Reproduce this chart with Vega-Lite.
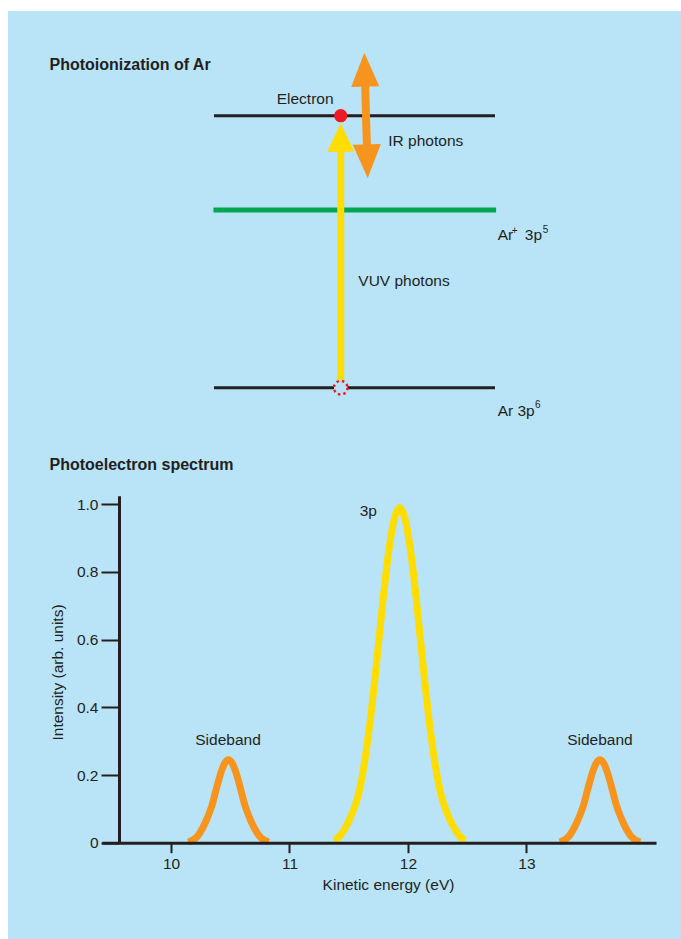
{
  "$schema": "https://vega.github.io/schema/vega-lite/v6.json",
  "width": 673,
  "height": 928,
  "autosize": "none",
  "padding": {"left": 8, "top": 11, "right": 0, "bottom": 0},
  "background": "white",
  "config": {
    "view": {"fill": "#b9e4f7", "stroke": null},
    "font": "Liberation Sans",
    "axis": {"grid": false}
  },
  "datasets": {
    "levels": [
      {"state": "Electron continuum", "x": 0, "x2": 10, "y": 7.653},
      {"state": "Ar 3p6", "x": 0, "x2": 10, "y": 0}
    ],
    "ion": [{"state": "Ar+ 3p5", "x": -0.02, "x2": 10.04, "y": 5.0}],
    "vuv": [{"x": 4.51, "y": 0.22, "y2": 6.75}],
    "vuvHead": [{"x": 4.51, "y": 7.44}],
    "ir": [{"x": 5.38, "x2": 5.44, "y": 8.52, "y2": 6.82}],
    "irUp": [{"x": 5.35, "y": 9.426}],
    "irDown": [{"x": 5.47, "y": 5.892}],
    "electron": [{"x": 4.51, "y": 7.653}],
    "hole": [{"x": 4.51, "y": 0}],
    "diagramLabels": [
      {"label": "Electron", "x": 2.231, "y": 7.982},
      {"label": "IR photons", "x": 6.203, "y": 6.801},
      {"label": "VUV photons", "x": 5.135, "y": 2.862},
      {"label": "Ar", "x": 10.096, "y": 4.156},
      {"label": "3p", "x": 11.06, "y": 4.156},
      {"label": "Ar 3p", "x": 10.096, "y": -0.788}
    ],
    "sup": [
      {"label": "+", "x": 10.6, "y": 4.33},
      {"label": "5", "x": 11.70, "y": 4.343},
      {"label": "6", "x": 11.42, "y": -0.58}
    ],
    "titles": [
      {"label": "Photoionization of Ar", "x": -5.855, "y": 8.953},
      {"label": "Photoelectron spectrum", "x": -5.855, "y": -2.316}
    ],
    "spectrumLabels": [
      {"label": "3p", "energy": 11.665, "intensity": 0.9654},
      {"label": "Sideband", "energy": 10.481, "intensity": 0.2887},
      {"label": "Sideband", "energy": 13.62, "intensity": 0.2887}
    ],
    "spectrum": [
      {"peak": "low", "band": "Sideband", "energy": 10.145, "intensity": 0.002},
      {"peak": "low", "band": "Sideband", "energy": 10.185, "intensity": 0.008},
      {"peak": "low", "band": "Sideband", "energy": 10.225, "intensity": 0.020},
      {"peak": "low", "band": "Sideband", "energy": 10.265, "intensity": 0.042},
      {"peak": "low", "band": "Sideband", "energy": 10.305, "intensity": 0.072},
      {"peak": "low", "band": "Sideband", "energy": 10.345, "intensity": 0.109},
      {"peak": "low", "band": "Sideband", "energy": 10.385, "intensity": 0.162},
      {"peak": "low", "band": "Sideband", "energy": 10.425, "intensity": 0.211},
      {"peak": "low", "band": "Sideband", "energy": 10.455, "intensity": 0.236},
      {"peak": "low", "band": "Sideband", "energy": 10.485, "intensity": 0.245},
      {"peak": "low", "band": "Sideband", "energy": 10.515, "intensity": 0.236},
      {"peak": "low", "band": "Sideband", "energy": 10.545, "intensity": 0.211},
      {"peak": "low", "band": "Sideband", "energy": 10.585, "intensity": 0.162},
      {"peak": "low", "band": "Sideband", "energy": 10.625, "intensity": 0.109},
      {"peak": "low", "band": "Sideband", "energy": 10.665, "intensity": 0.072},
      {"peak": "low", "band": "Sideband", "energy": 10.705, "intensity": 0.042},
      {"peak": "low", "band": "Sideband", "energy": 10.745, "intensity": 0.020},
      {"peak": "low", "band": "Sideband", "energy": 10.785, "intensity": 0.008},
      {"peak": "low", "band": "Sideband", "energy": 10.825, "intensity": 0.002},
      {"peak": "main", "band": "3p", "energy": 11.38, "intensity": 0.005},
      {"peak": "main", "band": "3p", "energy": 11.43, "intensity": 0.022},
      {"peak": "main", "band": "3p", "energy": 11.48, "intensity": 0.050},
      {"peak": "main", "band": "3p", "energy": 11.53, "intensity": 0.088},
      {"peak": "main", "band": "3p", "energy": 11.58, "intensity": 0.140},
      {"peak": "main", "band": "3p", "energy": 11.63, "intensity": 0.230},
      {"peak": "main", "band": "3p", "energy": 11.68, "intensity": 0.357},
      {"peak": "main", "band": "3p", "energy": 11.73, "intensity": 0.515},
      {"peak": "main", "band": "3p", "energy": 11.78, "intensity": 0.686},
      {"peak": "main", "band": "3p", "energy": 11.83, "intensity": 0.841},
      {"peak": "main", "band": "3p", "energy": 11.88, "intensity": 0.950},
      {"peak": "main", "band": "3p", "energy": 11.93, "intensity": 0.990},
      {"peak": "main", "band": "3p", "energy": 11.98, "intensity": 0.950},
      {"peak": "main", "band": "3p", "energy": 12.03, "intensity": 0.841},
      {"peak": "main", "band": "3p", "energy": 12.08, "intensity": 0.686},
      {"peak": "main", "band": "3p", "energy": 12.13, "intensity": 0.515},
      {"peak": "main", "band": "3p", "energy": 12.18, "intensity": 0.357},
      {"peak": "main", "band": "3p", "energy": 12.23, "intensity": 0.230},
      {"peak": "main", "band": "3p", "energy": 12.28, "intensity": 0.140},
      {"peak": "main", "band": "3p", "energy": 12.33, "intensity": 0.088},
      {"peak": "main", "band": "3p", "energy": 12.38, "intensity": 0.050},
      {"peak": "main", "band": "3p", "energy": 12.43, "intensity": 0.022},
      {"peak": "main", "band": "3p", "energy": 12.48, "intensity": 0.005},
      {"peak": "high", "band": "Sideband", "energy": 13.28, "intensity": 0.002},
      {"peak": "high", "band": "Sideband", "energy": 13.32, "intensity": 0.008},
      {"peak": "high", "band": "Sideband", "energy": 13.36, "intensity": 0.020},
      {"peak": "high", "band": "Sideband", "energy": 13.40, "intensity": 0.042},
      {"peak": "high", "band": "Sideband", "energy": 13.44, "intensity": 0.072},
      {"peak": "high", "band": "Sideband", "energy": 13.48, "intensity": 0.109},
      {"peak": "high", "band": "Sideband", "energy": 13.52, "intensity": 0.162},
      {"peak": "high", "band": "Sideband", "energy": 13.56, "intensity": 0.211},
      {"peak": "high", "band": "Sideband", "energy": 13.59, "intensity": 0.236},
      {"peak": "high", "band": "Sideband", "energy": 13.62, "intensity": 0.245},
      {"peak": "high", "band": "Sideband", "energy": 13.65, "intensity": 0.236},
      {"peak": "high", "band": "Sideband", "energy": 13.68, "intensity": 0.211},
      {"peak": "high", "band": "Sideband", "energy": 13.72, "intensity": 0.162},
      {"peak": "high", "band": "Sideband", "energy": 13.76, "intensity": 0.109},
      {"peak": "high", "band": "Sideband", "energy": 13.80, "intensity": 0.072},
      {"peak": "high", "band": "Sideband", "energy": 13.84, "intensity": 0.042},
      {"peak": "high", "band": "Sideband", "energy": 13.88, "intensity": 0.020},
      {"peak": "high", "band": "Sideband", "energy": 13.92, "intensity": 0.008},
      {"peak": "high", "band": "Sideband", "energy": 13.96, "intensity": 0.002}
    ]
  },
  "layer": [
    {
      "encoding": {
        "x": {"field": "x", "type": "quantitative", "axis": null,
              "scale": {"domain": [0, 10], "range": [206, 487], "nice": false, "zero": false}},
        "y": {"field": "y", "type": "quantitative", "axis": null,
              "scale": {"domain": [0, 10], "range": [376.7, 21.3], "nice": false, "zero": false}}
      },
      "layer": [
        {"data": {"name": "levels"}, "mark": {"type": "rule", "color": "#231f20", "strokeWidth": 3},
         "encoding": {"x2": {"field": "x2"}}},
        {"data": {"name": "ion"}, "mark": {"type": "rule", "color": "#00a651", "strokeWidth": 5},
         "encoding": {"x2": {"field": "x2"}}},
        {"data": {"name": "vuv"}, "mark": {"type": "rule", "color": "#ffdd00", "strokeWidth": 7},
         "encoding": {"y2": {"field": "y2"}}},
        {"data": {"name": "vuvHead"}, "mark": {"type": "point", "shape": "M0,0L-1,2.1L1,2.1Z", "size": 729, "filled": true, "color": "#ffdd00", "opacity": 1, "strokeWidth": 0},
         "encoding": {}},
        {"data": {"name": "ir"}, "mark": {"type": "rule", "color": "#f7941d", "strokeWidth": 8},
         "encoding": {"x2": {"field": "x2"}, "y2": {"field": "y2"}}},
        {"data": {"name": "irUp"}, "mark": {"type": "point", "shape": "M0,0L-1,2.43L1,2.43Z", "size": 784, "angle": -1.5, "filled": true, "color": "#f7941d", "opacity": 1, "strokeWidth": 0},
         "encoding": {}},
        {"data": {"name": "irDown"}, "mark": {"type": "point", "shape": "M0,0L-1,-2.43L1,-2.43Z", "size": 784, "angle": -1.5, "filled": true, "color": "#f7941d", "opacity": 1, "strokeWidth": 0},
         "encoding": {}},
        {"data": {"name": "electron"}, "mark": {"type": "point", "shape": "circle", "size": 177, "filled": true, "color": "#ed1c24", "opacity": 1, "strokeWidth": 0},
         "encoding": {}},
        {"data": {"name": "hole"}, "mark": {"type": "point", "shape": "circle", "size": 185, "fill": "#b9e4f7", "stroke": "#ed1c24", "strokeWidth": 2.5, "strokeDash": [2.5, 3], "opacity": 1, "fillOpacity": 1},
         "encoding": {}},
        {"data": {"name": "diagramLabels"}, "mark": {"type": "text", "align": "left", "baseline": "alphabetic", "fontSize": 15.5, "font": "Liberation Sans", "color": "#231f20"},
         "encoding": {"text": {"field": "label"}}},
        {"data": {"name": "sup"}, "mark": {"type": "text", "align": "left", "baseline": "alphabetic", "fontSize": 10, "font": "Liberation Sans", "color": "#231f20"},
         "encoding": {"text": {"field": "label"}}},
        {"data": {"name": "titles"}, "mark": {"type": "text", "align": "left", "baseline": "alphabetic", "fontSize": 16, "fontWeight": "bold", "font": "Liberation Sans", "color": "#231f20"},
         "encoding": {"text": {"field": "label"}}}
      ]
    },
    {
      "encoding": {
        "x": {"field": "energy", "type": "quantitative",
              "scale": {"domain": [9.416, 14.093], "range": [93.8, 648], "nice": false, "zero": false},
              "axis": {"orient": "bottom", "offset": -96.3, "values": [10, 11, 12, 13], "title": "Kinetic energy (eV)",
                       "domainColor": "#231f20", "domainWidth": 3, "tickColor": "#231f20", "tickWidth": 2, "tickSize": 10,
                       "labelPadding": 4, "labelFont": "Liberation Sans", "labelFontSize": 15.5, "labelColor": "#231f20", "labelFlush": false,
                       "titleFont": "Liberation Sans", "titleFontSize": 15.5, "titleFontWeight": "normal", "titleColor": "#231f20",
                       "titleX": 380, "titleY": 42, "titleBaseline": "middle", "titleAlign": "center", "zindex": 1}},
        "y": {"field": "intensity", "type": "quantitative",
              "scale": {"domain": [0, 1.025], "range": [831.7, 484.8], "nice": false, "zero": false},
              "axis": {"orient": "left", "offset": -111, "values": [0, 0.2, 0.4, 0.6, 0.8, 1.0],
                       "labelExpr": "datum.value == 0 ? '0' : format(datum.value, '.1f')",
                       "title": "Intensity (arb. units)",
                       "domainColor": "#231f20", "domainWidth": 3, "tickColor": "#231f20", "tickWidth": 2, "tickSize": 18,
                       "labelPadding": 3, "labelFont": "Liberation Sans", "labelFontSize": 15.5, "labelColor": "#231f20", "labelFlush": false,
                       "titleFont": "Liberation Sans", "titleFontSize": 15.5, "titleFontWeight": "normal", "titleColor": "#231f20",
                       "titleX": -62, "titleY": 661, "titleAngle": -90, "titleBaseline": "middle", "titleAlign": "center", "zindex": 1}}
      },
      "layer": [
        {"data": {"name": "spectrum"}, "mark": {"type": "line", "strokeWidth": 7, "interpolate": "monotone"},
         "encoding": {
           "color": {"field": "band", "type": "nominal", "scale": {"domain": ["Sideband", "3p"], "range": ["#f7941d", "#ffdd00"]}, "legend": null},
           "detail": {"field": "peak"}
         }},
        {"data": {"name": "spectrumLabels"}, "mark": {"type": "text", "align": "center", "baseline": "alphabetic", "fontSize": 15.5, "font": "Liberation Sans", "color": "#231f20"},
         "encoding": {"text": {"field": "label"}}}
      ]
    }
  ],
  "resolve": {"scale": {"x": "independent", "y": "independent"}, "axis": {"x": "independent", "y": "independent"}}
}
